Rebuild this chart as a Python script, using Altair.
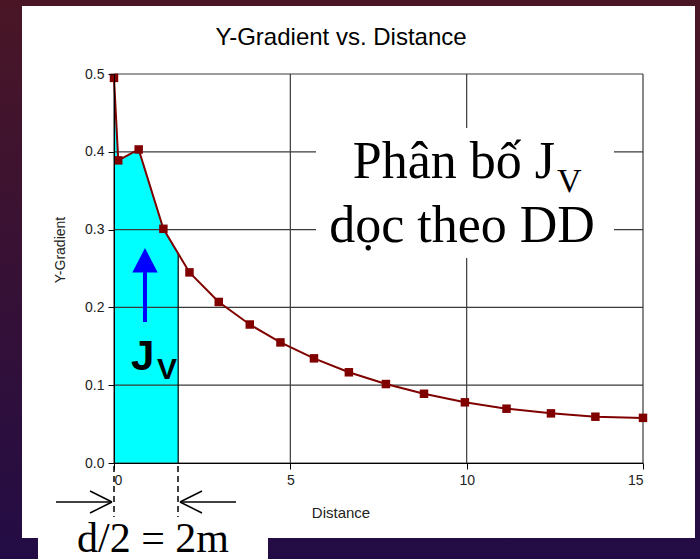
import altair as alt
import numpy as np
import pandas as pd

# ---- data -------------------------------------------------------------
distance = [0.0, 0.12, 0.70, 1.40, 2.14, 2.97, 3.85, 4.72, 5.67, 6.66,
            7.71, 8.79, 9.95, 11.13, 12.39, 13.65, 15.0]
y_gradient = [0.495, 0.389, 0.403, 0.301, 0.245, 0.207, 0.178, 0.155, 0.1345,
              0.1166, 0.1015, 0.089, 0.078, 0.0698, 0.0638, 0.0595, 0.058]
shade_end = 1.82          # d/2 = 2 m band, shaded under the curve
x_ticks = [0, 5, 10, 15]
y_ticks = [0.0, 0.1, 0.2, 0.3, 0.4, 0.5]

curve = pd.DataFrame({"Distance": distance, "Y-Gradient": y_gradient})
edge_y = float(np.interp(shade_end, distance, y_gradient))
band = pd.concat([curve[curve["Distance"] < shade_end],
                  pd.DataFrame({"Distance": [shade_end], "Y-Gradient": [edge_y]})],
                 ignore_index=True)

# ---- layout -----------------------------------------------------------
L, T = 114, 74             # plot origin inside the 700 x 559 page
W, H = 529, 389
SANS = "Liberation Sans"
SERIF = "Liberation Serif"
one = pd.DataFrame({"k": [0]})

X = alt.X("Distance:Q",
          scale=alt.Scale(domain=[0, 15], nice=False, zero=False),
          axis=alt.Axis(values=x_ticks, format="d", title=None, grid=False,
                        labelFont=SANS, labelFontSize=14, labelColor="#222",
                        tickColor="black", tickSize=6, domainColor="black",
                        labelPadding=4, zindex=1))
Y = alt.Y("Y-Gradient:Q",
          scale=alt.Scale(domain=[0, 0.5], nice=False),
          axis=alt.Axis(values=y_ticks, format=".1f", title=None, grid=False,
                        labelFont=SANS, labelFontSize=14, labelColor="#222",
                        tickColor="black", tickSize=6, domainColor="black",
                        labelPadding=4, zindex=1))


def rect(x1, x2, y1, y2, **style):
    return alt.Chart(one).mark_rect(**style).encode(
        x=alt.value(x1 - L), x2=alt.value(x2 - L),
        y=alt.value(y1 - T), y2=alt.value(y2 - T))


def seg(x1, y1, x2, y2, **style):
    return alt.Chart(one).mark_rule(**style).encode(
        x=alt.value(x1 - L), x2=alt.value(x2 - L),
        y=alt.value(y1 - T), y2=alt.value(y2 - T))


def label(text, x, y, **style):
    return alt.Chart(one).mark_text(text=text, **style).encode(
        x=alt.value(x - L), y=alt.value(y - T))


# slide background and white chart panel
backdrop = rect(0, 700, 0, 559, fill=alt.Gradient(
    gradient="linear", x1=0, y1=0, x2=0, y2=1,
    stops=[alt.GradientStop(color="#4a1626", offset=0),
           alt.GradientStop(color="#230c45", offset=1)]))
panel = rect(22, 695, 6, 538, fill="white")
foot = rect(38, 268, 530, 559, fill="white")

# shaded band under the curve
area = alt.Chart(band).mark_area(color="#00ffff", opacity=1).encode(x=X, y=Y)

# grid lines
vgrid = alt.Chart(pd.DataFrame({"Distance": x_ticks})).mark_rule(
    color="#3a3a3a", strokeWidth=1.2).encode(x=X, y=alt.value(0), y2=alt.value(H))
hgrid = alt.Chart(pd.DataFrame({"Y-Gradient": y_ticks})).mark_rule(
    color="#3a3a3a", strokeWidth=1.2).encode(y=Y, x=alt.value(0), x2=alt.value(W))

edge = alt.Chart(pd.DataFrame({"Distance": [shade_end], "Y-Gradient": [edge_y]})
                 ).mark_rule(color="black", strokeWidth=1.2).encode(
    x=X, y=Y, y2=alt.datum(0))

textbox = rect(316, 614, 128, 258, fill="white")

line = alt.Chart(curve).mark_line(color="#800000", strokeWidth=2).encode(x=X, y=Y)
dots = alt.Chart(curve).mark_square(color="#800000", size=72, opacity=1).encode(x=X, y=Y)

# texts
title = label("Y-Gradient vs. Distance", 341, 38, font=SANS, fontSize=24,
              align="center", baseline="middle", color="black")
ytitle = label("Y-Gradient", 61, 250, font=SANS, fontSize=14, angle=270,
               align="center", baseline="middle", color="#222")
xtitle = label("Distance", 341, 513, font=SANS, fontSize=15,
               align="center", baseline="middle", color="#222")
note1 = label("Phân bố J", 555, 178, font=SERIF, fontSize=52,
              align="right", baseline="alphabetic", color="black")
note1v = label("V", 557, 192, font=SERIF, fontSize=34,
               align="left", baseline="alphabetic", color="black")
note2 = label("dọc theo DD", 462, 242, font=SERIF, fontSize=52,
              align="center", baseline="alphabetic", color="black")
jv_j = label("J", 131, 370, font=SANS, fontSize=42, fontWeight="bold",
             align="left", baseline="alphabetic", color="black")
jv_v = label("V", 157, 379, font=SANS, fontSize=30, fontWeight="bold",
             align="left", baseline="alphabetic", color="black")
half = label("d/2 = 2m", 153, 552, font=SERIF, fontSize=42,
             align="center", baseline="alphabetic", color="black")

# blue flux arrow
shaft = seg(145, 322, 145, 268, color="#0000ff", strokeWidth=4)
head = alt.Chart(one).mark_point(shape="M-1,0L1,0L0,-1.92Z", filled=True,
                                 size=645, color="#0000ff", opacity=1,
                                 strokeWidth=0).encode(
    x=alt.value(145 - L), y=alt.value(272.5 - T))

# dimension arrows for d/2
dim = [
    seg(114, 466, 114, 517, color="black", strokeWidth=1.5, strokeDash=[6, 4]),
    seg(178, 466, 178, 517, color="black", strokeWidth=1.5, strokeDash=[6, 4]),
    seg(56, 502, 112, 502, color="black", strokeWidth=1.5),
    seg(90, 491, 112, 502, color="black", strokeWidth=1.5),
    seg(90, 513, 112, 502, color="black", strokeWidth=1.5),
    seg(180, 502, 236, 502, color="black", strokeWidth=1.5),
    seg(202, 491, 180, 502, color="black", strokeWidth=1.5),
    seg(202, 513, 180, 502, color="black", strokeWidth=1.5),
]

chart = alt.layer(
    backdrop, panel, foot, area, vgrid, hgrid, edge, textbox, line, dots,
    title, ytitle, xtitle, note1, note1v, note2, jv_j, jv_v, half,
    shaft, head, *dim
).properties(
    width=W, height=H,
    autosize=alt.AutoSizeParams(type="none"),
    padding={"left": L, "top": T, "right": 700 - L - W, "bottom": 559 - T - H},
).configure_view(stroke=None)

chart.save("out.html", embed_options={"renderer": "svg", "actions": False})
